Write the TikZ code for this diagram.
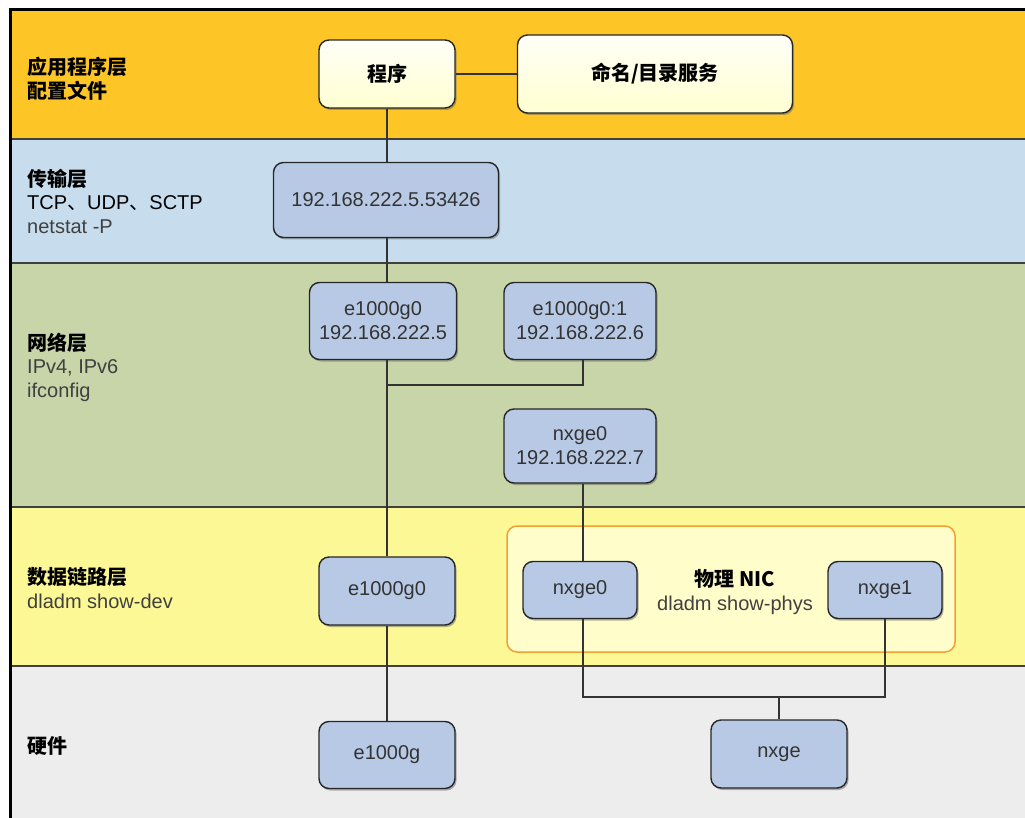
\documentclass[tikz,border=0pt]{standalone}
\usepackage{fontspec}
\setmainfont{Liberation Sans}
\newfontfamily\cjk{Noto Sans CJK SC}
\usetikzlibrary{shadows}

\definecolor{appbg}{RGB}{253,197,38}
\definecolor{tranbg}{RGB}{199,221,237}
\definecolor{netbg}{RGB}{199,213,169}
\definecolor{linkbg}{RGB}{253,248,150}
\definecolor{hwbg}{RGB}{237,237,237}
\definecolor{devblue}{RGB}{184,201,229}
\definecolor{nicfill}{RGB}{255,253,202}
\definecolor{nicline}{RGB}{242,160,50}

\tikzset{
	box/.style={draw=black!85, line width=1.4pt, rounded corners=10pt, align=center,
		drop shadow={shadow xshift=1.5pt, shadow yshift=-2pt, fill=black!60},
		font=\fontsize{20}{24}\selectfont, text=black!80},
	dev/.style={box, fill=devblue},
	app/.style={box, top color=white!70!yellow!10, bottom color=yellow!18, font=\cjk\bfseries\fontsize{20}{24}\selectfont, text=black},
	lbl/.style={anchor=west, align=left, inner sep=0pt, font=\fontsize{20}{23.5}\selectfont},
	wire/.style={draw=black!80, line width=1.5pt},
	sep/.style={draw=black!75, line width=2pt}
}

\begin{document}
\begin{tikzpicture}[x=1pt,y=-1pt]
	\useasboundingbox (0,0) rectangle (1025,818);

	\fill[appbg] (10,10) rectangle (1025,139);
	\fill[tranbg] (10,139) rectangle (1025,263);
	\fill[netbg] (10,263) rectangle (1025,507);
	\fill[linkbg] (10,507) rectangle (1025,666);
	\fill[hwbg] (10,666) rectangle (1025,818);
	\foreach \y in {139,263,507,666}
		\draw[sep] (10,\y) -- (1025,\y);
	\draw[line width=3pt] (10,818) -- (10,10) -- (1025,10);

	\node[lbl] (applbl) at (27,79) {{\cjk\bfseries 应用程序层}\\{\cjk\bfseries 配置文件}};
	\node[lbl] (tranlbl) at (27,201) {{\cjk\bfseries 传输层}\\TCP{\cjk 、}UDP{\cjk 、}SCTP\\\textcolor{black!75}{netstat -P}};
	\node[lbl] (netlbl) at (27,367) {{\cjk\bfseries 网络层}\\\textcolor{black!75}{IPv4, IPv6}\\\textcolor{black!75}{ifconfig}};
	\node[lbl] (linklbl) at (27,588) {{\cjk\bfseries 数据链路层}\\\textcolor{black!75}{dladm show-dev}};
	\node[lbl] (hwlbl) at (27,746) {\cjk\bfseries 硬件};

	\node[draw=nicline, fill=nicfill, line width=1.5pt, rounded corners=10pt, minimum width=448pt, minimum height=126pt] (nic) at (731,589) {};
	\node[align=center, font=\fontsize{20}{24}\selectfont] (niclbl) at (735,592) {{\cjk\bfseries 物理 NIC}\\\textcolor{black!75}{dladm show-phys}};

	\node[app, minimum width=136pt, minimum height=68pt] (prog) at (387,74) {程序};
	\node[app, minimum width=275pt, minimum height=78pt] (naming) at (655,74) {命名/目录服务};

	\node[dev, minimum width=225pt, minimum height=75pt] (sock) at (386,200) {192.168.222.5.53426};

	\node[dev, minimum width=147pt, minimum height=77pt] (ip5) at (383,321) {e1000g0\\192.168.222.5};
	\node[dev, minimum width=152pt, minimum height=77pt] (ip6) at (580,321) {e1000g0:1\\192.168.222.6};
	\node[dev, minimum width=152pt, minimum height=74pt] (ip7) at (580,446) {nxge0\\192.168.222.7};

	\node[dev, minimum width=136pt, minimum height=68pt] (dl0) at (387,591) {e1000g0};
	\node[dev, minimum width=114pt, minimum height=57pt] (nic0) at (580,590) {nxge0};
	\node[dev, minimum width=114pt, minimum height=57pt] (nic1) at (885,590) {nxge1};

	\node[dev, minimum width=136pt, minimum height=67pt] (hw0) at (387,755) {e1000g};
	\node[dev, minimum width=136pt, minimum height=68pt] (hwx) at (779,754) {nxge};

	\coordinate (j1) at (387,385);
	\coordinate (bus) at (779,697);

	\draw[wire] (prog.east) -- (naming.west);
	\draw[wire] (prog.south) -- (prog.south |- sock.north);
	\draw[wire] (prog.south |- sock.south) -- (prog.south |- ip5.north);
	\draw[wire] (prog.south |- ip5.south) -- (dl0.north);
	\draw[wire] (dl0.south) -- (hw0.north);
	\draw[wire] ([xshift=3pt]ip6.south) |- (j1);
	\draw[wire] ([xshift=3pt]ip7.south) -- ([xshift=3pt]nic0.north);
	\draw[wire] ([xshift=3pt]nic0.south) |- (bus) -| (nic1.south);
	\draw[wire] (bus) -- (hwx.north);

	% \draw[help lines,step=50] (0,0) grid (1025,818);
\end{tikzpicture}
\end{document}
